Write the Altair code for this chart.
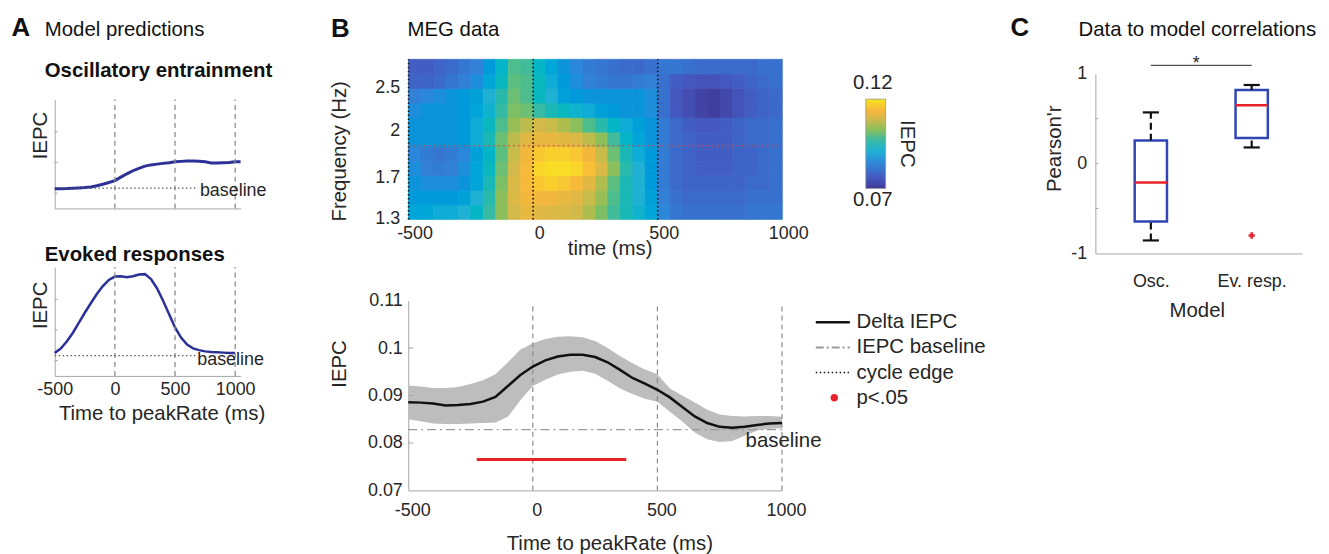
import altair as alt
import numpy as np
import pandas as pd

W, H = 1321, 546
FONT = "Liberation Sans"
INK = "#262626"
AXIS_GRAY = "#a6a6a6"
EDGE_GRAY = "#8c8c8c"
MODEL_BLUE = "#2b3196"
BOX_BLUE = "#2f46b4"
RED = "#e8222a"

# ---------------- A: model predictions ----------------
osc_time = [-500, -450, -400, -350, -300, -250, -200, -150, -100, -50, 0, 50, 100, 150, 200, 250,
            300, 350, 400, 450, 500, 550, 600, 650, 700, 750, 800, 850, 900, 950, 1000, 1045]
osc_iepc = [0.645, 0.645, 0.65, 0.66, 0.67, 0.68, 0.70, 0.74, 0.79, 0.845, 0.91, 1.02, 1.13, 1.23,
            1.31, 1.38, 1.42, 1.445, 1.47, 1.49, 1.52, 1.535, 1.545, 1.55, 1.54, 1.52, 1.48, 1.48,
            1.49, 1.50, 1.52, 1.525]
evo_time = [-500, -450, -400, -350, -300, -250, -200, -150, -100, -50, 0, 50, 100, 150, 200, 250,
            300, 350, 400, 450, 500, 550, 600, 650, 700, 750, 800, 850, 900, 950, 1000]
evo_iepc = [0.75, 0.89, 1.12, 1.40, 1.73, 2.06, 2.37, 2.67, 2.93, 3.13, 3.24, 3.25, 3.22, 3.25,
            3.31, 3.32, 3.16, 2.86, 2.46, 2.02, 1.58, 1.25, 1.02, 0.90, 0.84, 0.80, 0.78, 0.77,
            0.76, 0.75, 0.75]
model_baseline = 0.665
model_baseline_end = 690
cycle_edges = [0, 500, 1000]
a_time_ticks = [-500, 0, 500, 1000]
a_iepc_ticks = [0.5, 1.5, 2.5]

# ---------------- B: MEG data heat map ----------------
heat_time_left = [-500, -450, -400, -350, -300, -250, -200, -150, -100, -50, 0, 50, 100, 150, 200,
                  250, 300, 350, 400, 450, 500, 550, 600, 650, 700, 750, 800, 850, 900, 950]
heat_step = 50
# rows from lowest frequency (bottom) to highest (top)
heat_rows = [
    [0.089, 0.089, 0.090, 0.090, 0.091, 0.093, 0.097, 0.103, 0.109, 0.112, 0.111, 0.110, 0.110, 0.109, 0.106,
     0.102, 0.098, 0.095, 0.092, 0.089, 0.084, 0.081, 0.080, 0.080, 0.080, 0.080, 0.080, 0.081, 0.081, 0.081],
    [0.087, 0.087, 0.087, 0.087, 0.088, 0.091, 0.096, 0.103, 0.110, 0.113, 0.113, 0.113, 0.112, 0.111, 0.108,
     0.104, 0.099, 0.095, 0.091, 0.088, 0.083, 0.080, 0.079, 0.079, 0.079, 0.079, 0.079, 0.080, 0.080, 0.080],
    [0.086, 0.085, 0.085, 0.085, 0.086, 0.089, 0.095, 0.102, 0.110, 0.114, 0.116, 0.117, 0.116, 0.114, 0.111,
     0.106, 0.100, 0.095, 0.091, 0.087, 0.082, 0.079, 0.078, 0.078, 0.078, 0.078, 0.078, 0.079, 0.079, 0.080],
    [0.085, 0.083, 0.082, 0.083, 0.085, 0.089, 0.094, 0.101, 0.109, 0.114, 0.118, 0.119, 0.119, 0.118, 0.115,
     0.110, 0.103, 0.096, 0.091, 0.087, 0.082, 0.079, 0.078, 0.077, 0.077, 0.077, 0.078, 0.078, 0.079, 0.080],
    [0.084, 0.082, 0.081, 0.082, 0.084, 0.088, 0.093, 0.100, 0.108, 0.113, 0.116, 0.117, 0.117, 0.116, 0.113,
     0.108, 0.101, 0.095, 0.090, 0.087, 0.082, 0.079, 0.078, 0.077, 0.077, 0.077, 0.078, 0.078, 0.079, 0.080],
    [0.086, 0.086, 0.086, 0.086, 0.087, 0.090, 0.095, 0.101, 0.107, 0.111, 0.112, 0.112, 0.111, 0.110, 0.107,
     0.103, 0.098, 0.093, 0.089, 0.086, 0.082, 0.079, 0.078, 0.077, 0.077, 0.077, 0.078, 0.079, 0.079, 0.080],
    [0.086, 0.086, 0.086, 0.086, 0.087, 0.090, 0.094, 0.099, 0.104, 0.107, 0.109, 0.108, 0.106, 0.103, 0.099,
     0.096, 0.093, 0.090, 0.088, 0.086, 0.082, 0.079, 0.077, 0.076, 0.076, 0.077, 0.078, 0.079, 0.079, 0.080],
    [0.085, 0.086, 0.086, 0.086, 0.087, 0.089, 0.092, 0.097, 0.102, 0.101, 0.097, 0.095, 0.094, 0.092, 0.090,
     0.088, 0.087, 0.086, 0.086, 0.085, 0.080, 0.076, 0.074, 0.072, 0.071, 0.073, 0.075, 0.077, 0.078, 0.079],
    [0.083, 0.084, 0.085, 0.086, 0.087, 0.088, 0.091, 0.096, 0.101, 0.099, 0.094, 0.091, 0.088, 0.087, 0.086,
     0.086, 0.086, 0.086, 0.086, 0.085, 0.080, 0.076, 0.074, 0.072, 0.071, 0.073, 0.075, 0.077, 0.078, 0.079],
    [0.078, 0.078, 0.079, 0.081, 0.083, 0.085, 0.089, 0.094, 0.100, 0.099, 0.094, 0.090, 0.087, 0.085, 0.083,
     0.082, 0.081, 0.081, 0.082, 0.083, 0.080, 0.077, 0.076, 0.075, 0.075, 0.076, 0.077, 0.078, 0.079, 0.080],
    [0.077, 0.077, 0.078, 0.079, 0.081, 0.083, 0.087, 0.093, 0.099, 0.098, 0.093, 0.089, 0.086, 0.084, 0.082,
     0.081, 0.080, 0.079, 0.079, 0.080, 0.081, 0.081, 0.080, 0.079, 0.079, 0.079, 0.079, 0.079, 0.080, 0.080],
]
freq_tick_labels = ["1.3", "1.7", "2", "2.5"]
freq_tick_rows = [0.05, 2.85, 6.1, 9.05]
peak_freq_row = 5.06
heat_edges = [-500, 0, 500]
colorbar_ticks = [0.07, 0.12]
parula_stops = [0.0, 0.12, 0.27, 0.42, 0.55, 0.65, 0.78, 0.87, 1.0]
parula_colors = ["#3f3a98", "#4558bf", "#3184d8", "#1fb1d4", "#3dbaa0", "#86bf5e", "#d2b94a",
                 "#f6b63c", "#f7e520"]

# ---------------- B: Delta IEPC time course ----------------
b_time = [-500, -450, -400, -350, -300, -250, -200, -150, -100, -50, 0, 50, 100, 150, 200, 250,
          300, 350, 400, 450, 500, 550, 600, 650, 700, 750, 800, 850, 900, 950, 1000]
b_mean = [0.0886, 0.0885, 0.0883, 0.0879, 0.0880, 0.0882, 0.0887, 0.0897, 0.0920, 0.0943, 0.0961,
          0.0974, 0.0982, 0.0986, 0.0986, 0.0981, 0.0970, 0.0954, 0.0937, 0.0925, 0.0912, 0.0896,
          0.0876, 0.0856, 0.0842, 0.0834, 0.0832, 0.0834, 0.0838, 0.0841, 0.0842]
b_low = [0.0850, 0.0846, 0.0841, 0.0840, 0.0840, 0.0841, 0.0842, 0.0843, 0.0855, 0.0890, 0.0920,
         0.0933, 0.0944, 0.0950, 0.0952, 0.0946, 0.0931, 0.0915, 0.0903, 0.0893, 0.0887, 0.0866,
         0.0845, 0.0822, 0.0808, 0.0802, 0.0804, 0.0815, 0.0826, 0.0830, 0.0831]
b_high = [0.0921, 0.0919, 0.0916, 0.0916, 0.0918, 0.0924, 0.0932, 0.0945, 0.0970, 0.0997, 0.1010,
          0.1019, 0.1024, 0.1025, 0.1023, 0.1015, 0.1000, 0.0983, 0.0968, 0.0955, 0.0945, 0.0915,
          0.0900, 0.0885, 0.0870, 0.0860, 0.0857, 0.0856, 0.0857, 0.0857, 0.0855]
iepc_baseline = 0.0828
sig_start, sig_end, sig_level = -225, 375, 0.0765
b_iepc_ticks = [0.07, 0.08, 0.09, 0.1, 0.11]
legend_items = ["Delta IEPC", "IEPC baseline", "cycle edge", "p<.05"]

# ---------------- C: data to model correlations ----------------
model_names = ["Osc.", "Ev. resp."]
model_pos = [1, 2]
box_q1 = [-0.645, 0.285]
box_q3 = [0.256, 0.82]
box_median = [-0.21, 0.65]
whisker_low = [-0.855, 0.18]
whisker_high = [0.57, 0.875]
outlier_pos = [2]
outlier_r = [-0.80]
sig_pair = [1, 2]
sig_height = 1.094
r_ticks = [-1, 0, 1]
r_minor_ticks = [-0.5, 0.5]


def axis(orient, offset, **kw):
    opts = dict(orient=orient, offset=offset, grid=False, ticks=False, tickSize=0,
                domainColor=AXIS_GRAY, domainWidth=1, labelFont=FONT, labelFontSize=18,
                labelColor=INK, labelFlush=False, labelOverlap=False,
                labelExpr="'' + datum.value",
                titleFont=FONT, titleFontSize=20.5, titleColor=INK, titleFontWeight="normal",
                titleAlign="center", titleBaseline="alphabetic")
    opts.update(kw)
    return alt.Axis(**opts)


layers = []

# ---------- panel A ----------
xA = alt.Scale(domain=[-500, 1045], range=[47, 234])
yA1 = alt.Scale(domain=[0, 3.55], range=[200, 90.5])
yA2 = alt.Scale(domain=[0, 3.55], range=[368.5, 259])


def model_panel(df, yscale, x_axis, y_axis, base_text_pos, width):
    line = alt.Chart(df).mark_line(color=MODEL_BLUE, strokeWidth=width).encode(
        x=alt.X("t:Q", scale=xA, axis=x_axis),
        y=alt.Y("u:Q", scale=yscale, axis=y_axis),
    )
    edges = alt.Chart(pd.DataFrame({"t": cycle_edges})).mark_rule(
        color=EDGE_GRAY, strokeDash=[5, 4], strokeWidth=1.3).encode(
        x=alt.X("t:Q", scale=xA, axis=None),
        y=alt.YDatum(0, scale=yscale, axis=None),
        y2=alt.Y2Datum(3.55),
    )
    ticks = alt.Chart(pd.DataFrame({"u": a_iepc_ticks})).mark_rule(
        color=AXIS_GRAY, strokeWidth=1).encode(
        y=alt.Y("u:Q", scale=yscale, axis=None),
        x=alt.XDatum(-500, scale=xA, axis=None), x2=alt.X2Datum(-475),
    )
    base = alt.Chart(pd.DataFrame({"t0": [-500], "t1": [model_baseline_end], "u": [model_baseline]})).mark_rule(
        color="#555555", strokeDash=[1.5, 2.5], strokeWidth=1.2).encode(
        x=alt.X("t0:Q", scale=xA, axis=None), x2="t1:Q",
        y=alt.Y("u:Q", scale=yscale, axis=None),
    )
    label = alt.Chart(pd.DataFrame({"t": [base_text_pos[0]], "u": [base_text_pos[1]]})).mark_text(
        text="baseline", align="left", baseline="alphabetic", font=FONT, fontSize=18, color=INK).encode(
        x=alt.X("t:Q", scale=xA, axis=None),
        y=alt.Y("u:Q", scale=yscale, axis=None),
    )
    return [line, edges, ticks, base, label]


layers += model_panel(
    pd.DataFrame({"t": osc_time, "u": osc_iepc}), yA1,
    axis("bottom", 200 - H, labels=False, title=""),
    axis("left", -47, labels=False, title="IEPC", titleAngle=270, titleX=-8.3, titleY=126.2),
    (707, 0.42), 3)
layers += model_panel(
    pd.DataFrame({"t": evo_time, "u": evo_iepc}), yA2,
    axis("bottom", 368.5 - H, values=a_time_ticks, labelPadding=4.5,
         title="Time to peakRate (ms)", titleX=154.5, titleY=43.9),
    axis("left", -47, labels=False, title="IEPC", titleAngle=270, titleX=-8.3, titleY=297),
    (685, 0.34), 2.5)

# ---------- panel B heat map ----------
recs = []
for r, vals in enumerate(heat_rows):
    for t0, v in zip(heat_time_left, vals):
        recs.append({"t0": t0, "t1": t0 + heat_step, "r0": r, "r1": r + 1, "v": v})
heat_df = pd.DataFrame(recs)
xH = alt.Scale(domain=[-500, 1000], range=[403, 779])
yH = alt.Scale(domain=[0, len(heat_rows)], range=[211, 50])
color_scale = alt.Scale(domain=[0.07 + 0.05 * s for s in parula_stops], range=parula_colors, clamp=True)
freq_expr = " : ".join(
    f"datum.value < {p + 0.5} ? '{l}'" for p, l in zip(freq_tick_rows, freq_tick_labels)) + " : ''"

layers.append(alt.Chart(heat_df).mark_rect(strokeWidth=0.8).encode(
    x=alt.X("t0:Q", scale=xH, axis=axis("bottom", 211 - H, values=a_time_ticks, domain=False,
                                         labelPadding=5, labelOffset=6,
                                         title="time (ms)", titleX=605.3, titleY=35)),
    x2="t1:Q",
    y=alt.Y("r0:Q", scale=yH, axis=axis("left", -403, values=freq_tick_rows, domain=False,
                                         labelExpr=freq_expr, labelPadding=9,
                                         title="Frequency (Hz)", titleAngle=270, titleX=-63, titleY=142)),
    y2="r1:Q",
    color=alt.Color("v:Q", scale=color_scale, legend=None),
    stroke=alt.Stroke("v:Q", scale=color_scale, legend=None),
))
layers.append(alt.Chart(pd.DataFrame({"t": heat_edges})).mark_rule(
    color="#111111", strokeDash=[1.5, 2.5], strokeWidth=1.6).encode(
    x=alt.X("t:Q", scale=xH, axis=None),
    y=alt.YDatum(0, scale=yH, axis=None), y2=alt.Y2Datum(len(heat_rows)),
))
layers.append(alt.Chart(pd.DataFrame({"r": [peak_freq_row]})).mark_rule(
    color="#d9463a", strokeDash=[2, 3], strokeWidth=1).encode(
    y=alt.Y("r:Q", scale=yH, axis=None),
    x=alt.XDatum(-500, scale=xH, axis=None), x2=alt.X2Datum(1000),
))

# colour bar
yCB = alt.Scale(domain=colorbar_ticks, range=[180, 90])
grad = alt.LinearGradient(
    gradient="linear", x1=0, x2=0, y1=1, y2=0,
    stops=[alt.GradientStop(offset=o, color=c) for o, c in zip(parula_stops, parula_colors)])
cb_df = pd.DataFrame({"lo": [colorbar_ticks[0]], "hi": [colorbar_ticks[1]]})
layers.append(alt.Chart(cb_df).mark_rect(fill=grad, stroke="#9a9a9a", strokeWidth=0.8).encode(
    x=alt.value(863), x2=alt.value(883),
    y=alt.Y("lo:Q", scale=yCB, axis=None), y2="hi:Q",
))
layers.append(alt.Chart(pd.DataFrame({"v": [colorbar_ticks[1]]})).mark_text(
    text="0.12", align="center", baseline="alphabetic", dy=-10, font=FONT, fontSize=20.5, color=INK).encode(
    x=alt.value(870), y=alt.Y("v:Q", scale=yCB, axis=None)))
layers.append(alt.Chart(pd.DataFrame({"v": [colorbar_ticks[0]]})).mark_text(
    text="0.07", align="center", baseline="top", dy=1.4, font=FONT, fontSize=20.5, color=INK).encode(
    x=alt.value(870), y=alt.Y("v:Q", scale=yCB, axis=None)))
layers.append(alt.Chart(pd.DataFrame({"v": [0.095]})).mark_text(
    text="IEPC", angle=90, align="center", baseline="middle", font=FONT, fontSize=20.5, color=INK).encode(
    x=alt.value(904), y=alt.Y("v:Q", scale=yCB, axis=None)))

# ---------- panel B time course ----------
xB = alt.Scale(domain=[-500, 1000], range=[402.7, 778.7])
yB = alt.Scale(domain=[0.07, 0.11], range=[483.7, 292.7])
b_df = pd.DataFrame({"t": b_time, "m": b_mean, "lo": b_low, "hi": b_high})
layers.append(alt.Chart(b_df).mark_area(color="#bdbdbd", opacity=1).encode(
    x=alt.X("t:Q", scale=xB, axis=axis("bottom", 483.7 - H, values=a_time_ticks, labelPadding=11,
                                        labelOffset=4,
                                        title="Time to peakRate (ms)", titleX=605, titleY=59)),
    y=alt.Y("lo:Q", scale=yB, axis=axis("left", -402.7, values=b_iepc_ticks, labelPadding=6,
                                         title="IEPC", titleAngle=270, titleX=-62.7, titleY=356)),
    y2="hi:Q",
))
layers.append(alt.Chart(pd.DataFrame({"v": b_iepc_ticks[1:-1]})).mark_rule(
    color=AXIS_GRAY, strokeWidth=1).encode(
    y=alt.Y("v:Q", scale=yB, axis=None),
    x=alt.XDatum(-500, scale=xB, axis=None), x2=alt.X2Datum(-480),
))
layers.append(alt.Chart(pd.DataFrame({"t": cycle_edges})).mark_rule(
    color=EDGE_GRAY, strokeDash=[5, 4], strokeWidth=1.2).encode(
    x=alt.X("t:Q", scale=xB, axis=None),
    y=alt.YDatum(0.07, scale=yB, axis=None), y2=alt.Y2Datum(0.1095),
))
layers.append(alt.Chart(pd.DataFrame({"v": [iepc_baseline]})).mark_rule(
    color="#9a9a9a", strokeDash=[9, 4, 2, 4], strokeWidth=1.2).encode(
    y=alt.Y("v:Q", scale=yB, axis=None),
    x=alt.XDatum(-500, scale=xB, axis=None), x2=alt.X2Datum(1000),
))
layers.append(alt.Chart(b_df).mark_line(color="#111111", strokeWidth=2.5).encode(
    x=alt.X("t:Q", scale=xB, axis=None), y=alt.Y("m:Q", scale=yB, axis=None)))
layers.append(alt.Chart(pd.DataFrame({"a": [sig_start], "b": [sig_end], "v": [sig_level]})).mark_rule(
    color=RED, strokeWidth=3).encode(
    x=alt.X("a:Q", scale=xB, axis=None), x2="b:Q", y=alt.Y("v:Q", scale=yB, axis=None)))
layers.append(alt.Chart(pd.DataFrame({"t": [854], "v": [0.0791]})).mark_text(
    text="baseline", align="left", baseline="alphabetic", font=FONT, fontSize=20.5, color=INK).encode(
    x=alt.X("t:Q", scale=xB, axis=None), y=alt.Y("v:Q", scale=yB, axis=None)))

# manual legend
leg_df = pd.DataFrame({"item": legend_items})
leg_y = alt.Scale(type="point", domain=legend_items, range=[314.5, 390.5], padding=0)
leg_base = alt.Chart(leg_df)
layers.append(leg_base.transform_filter(alt.datum.item == legend_items[0]).mark_rule(
    color="#111111", strokeWidth=2.5).encode(
    x=alt.value(812.7), x2=alt.value(847), y=alt.Y("item:N", scale=leg_y, axis=None)))
layers.append(leg_base.transform_filter(alt.datum.item == legend_items[1]).mark_rule(
    color="#9a9a9a", strokeWidth=2, strokeDash=[8, 3, 2, 3]).encode(
    x=alt.value(812.7), x2=alt.value(847), y=alt.Y("item:N", scale=leg_y, axis=None)))
layers.append(leg_base.transform_filter(alt.datum.item == legend_items[2]).mark_rule(
    color="#111111", strokeWidth=1.5, strokeDash=[1.5, 2.5]).encode(
    x=alt.value(812.7), x2=alt.value(847), y=alt.Y("item:N", scale=leg_y, axis=None)))
layers.append(leg_base.transform_filter(alt.datum.item == legend_items[3]).mark_point(
    color=RED, filled=True, size=55, opacity=1).encode(
    x=alt.value(831.3), y=alt.Y("item:N", scale=leg_y, axis=None)))
layers.append(leg_base.mark_text(align="left", baseline="middle", font=FONT, fontSize=20.5, color=INK).encode(
    x=alt.value(853.7), y=alt.Y("item:N", scale=leg_y, axis=None), text="item:N"))

# ---------- panel C ----------
xC = alt.Scale(domain=[0.45, 2.5], range=[1094, 1302])
yC = alt.Scale(domain=[-1, 1], range=[245.3, 64.5])
box_df = pd.DataFrame({"pos": model_pos, "q1": box_q1, "q3": box_q3, "med": box_median,
                       "lo": whisker_low, "hi": whisker_high})
model_expr = " : ".join(f"datum.value == {p} ? '{n}'" for p, n in zip(model_pos, model_names)) + " : ''"
box_base = alt.Chart(box_df).transform_calculate(
    xl="datum.pos - 0.16", xr="datum.pos + 0.16", cl="datum.pos - 0.08", cr="datum.pos + 0.08")
layers.append(box_base.mark_rect(fill="white", fillOpacity=0, stroke=BOX_BLUE, strokeWidth=2.5).encode(
    x=alt.X("xl:Q", scale=xC, axis=axis("bottom", 245.3 - H, values=model_pos, labelExpr=model_expr,
                                         labelPadding=19, title="Model", titleX=1196, titleY=63)),
    x2="xr:Q",
    y=alt.Y("q1:Q", scale=yC, axis=axis("left", -1094, values=r_ticks, labelPadding=8.7,
                                         title="Pearson'r", titleAngle=270, titleX=-34.7, titleY=139.5)),
    y2="q3:Q",
))
layers.append(alt.Chart(pd.DataFrame({"v": r_minor_ticks + r_ticks[1:2]})).mark_rule(
    color=AXIS_GRAY, strokeWidth=1).encode(
    y=alt.Y("v:Q", scale=yC, axis=None),
    x=alt.XDatum(0.45, scale=xC, axis=None), x2=alt.X2Datum(0.48),
))
whisk_style = dict(color="#111111", strokeWidth=2.2, strokeDash=[7, 4])
layers.append(box_base.mark_rule(**whisk_style).encode(
    x=alt.X("pos:Q", scale=xC, axis=None), y=alt.Y("q3:Q", scale=yC, axis=None), y2="hi:Q"))
layers.append(box_base.mark_rule(**whisk_style).encode(
    x=alt.X("pos:Q", scale=xC, axis=None), y=alt.Y("lo:Q", scale=yC, axis=None), y2="q1:Q"))
layers.append(box_base.mark_rule(color="#111111", strokeWidth=2.2).encode(
    x=alt.X("cl:Q", scale=xC, axis=None), x2="cr:Q", y=alt.Y("hi:Q", scale=yC, axis=None)))
layers.append(box_base.mark_rule(color="#111111", strokeWidth=2.2).encode(
    x=alt.X("cl:Q", scale=xC, axis=None), x2="cr:Q", y=alt.Y("lo:Q", scale=yC, axis=None)))
layers.append(box_base.mark_rule(color=RED, strokeWidth=2.5).encode(
    x=alt.X("xl:Q", scale=xC, axis=None), x2="xr:Q", y=alt.Y("med:Q", scale=yC, axis=None)))
layers.append(alt.Chart(pd.DataFrame({"pos": outlier_pos, "r": outlier_r})).mark_point(
    shape="cross", color=RED, filled=True, size=40, opacity=1).encode(
    x=alt.X("pos:Q", scale=xC, axis=None), y=alt.Y("r:Q", scale=yC, axis=None)))
layers.append(alt.Chart(pd.DataFrame({"a": [sig_pair[0]], "b": [sig_pair[1]], "h": [sig_height]})).mark_rule(
    color="#222222", strokeWidth=1).encode(
    x=alt.X("a:Q", scale=xC, axis=None), x2="b:Q", y=alt.Y("h:Q", scale=yC, axis=None)))
layers.append(alt.Chart(pd.DataFrame({"m": [sum(sig_pair) / 2], "h": [sig_height]})).mark_text(
    text="*", align="center", baseline="alphabetic", dx=-5, dy=3.5, font=FONT, fontSize=18, color=INK).encode(
    x=alt.X("m:Q", scale=xC, axis=None), y=alt.Y("h:Q", scale=yC, axis=None)))

# ---------- panel titles ----------
dummy = pd.DataFrame({"k": [0]})


def title_text(txt, x, y, size=20.5, weight="normal"):
    return alt.Chart(dummy).mark_text(text=txt, align="left", baseline="alphabetic", font=FONT,
                                      fontSize=size, fontWeight=weight, color="#111111").encode(
        x=alt.value(x), y=alt.value(y))


layers += [
    title_text("A", 3.5, 27, 26, "bold"),
    title_text("Model predictions", 37, 27),
    title_text("Oscillatory entrainment", 37, 68, 20.5, "bold"),
    title_text("Evoked responses", 37, 252.7, 20.5, "bold"),
    title_text("B", 325, 28, 26, "bold"),
    title_text("MEG data", 402, 27),
    title_text("C", 1008.5, 27, 26, "bold"),
    title_text("Data to model correlations", 1077, 27),
]

chart = alt.layer(*layers).properties(
    width=W, height=H, padding=0, autosize=alt.AutoSizeParams(type="none"),
).resolve_scale(
    x="independent", y="independent", color="independent", stroke="independent"
).resolve_axis(
    x="independent", y="independent"
).configure_view(stroke="transparent")

chart.save("out.html", embed_options={"renderer": "svg", "actions": False})
